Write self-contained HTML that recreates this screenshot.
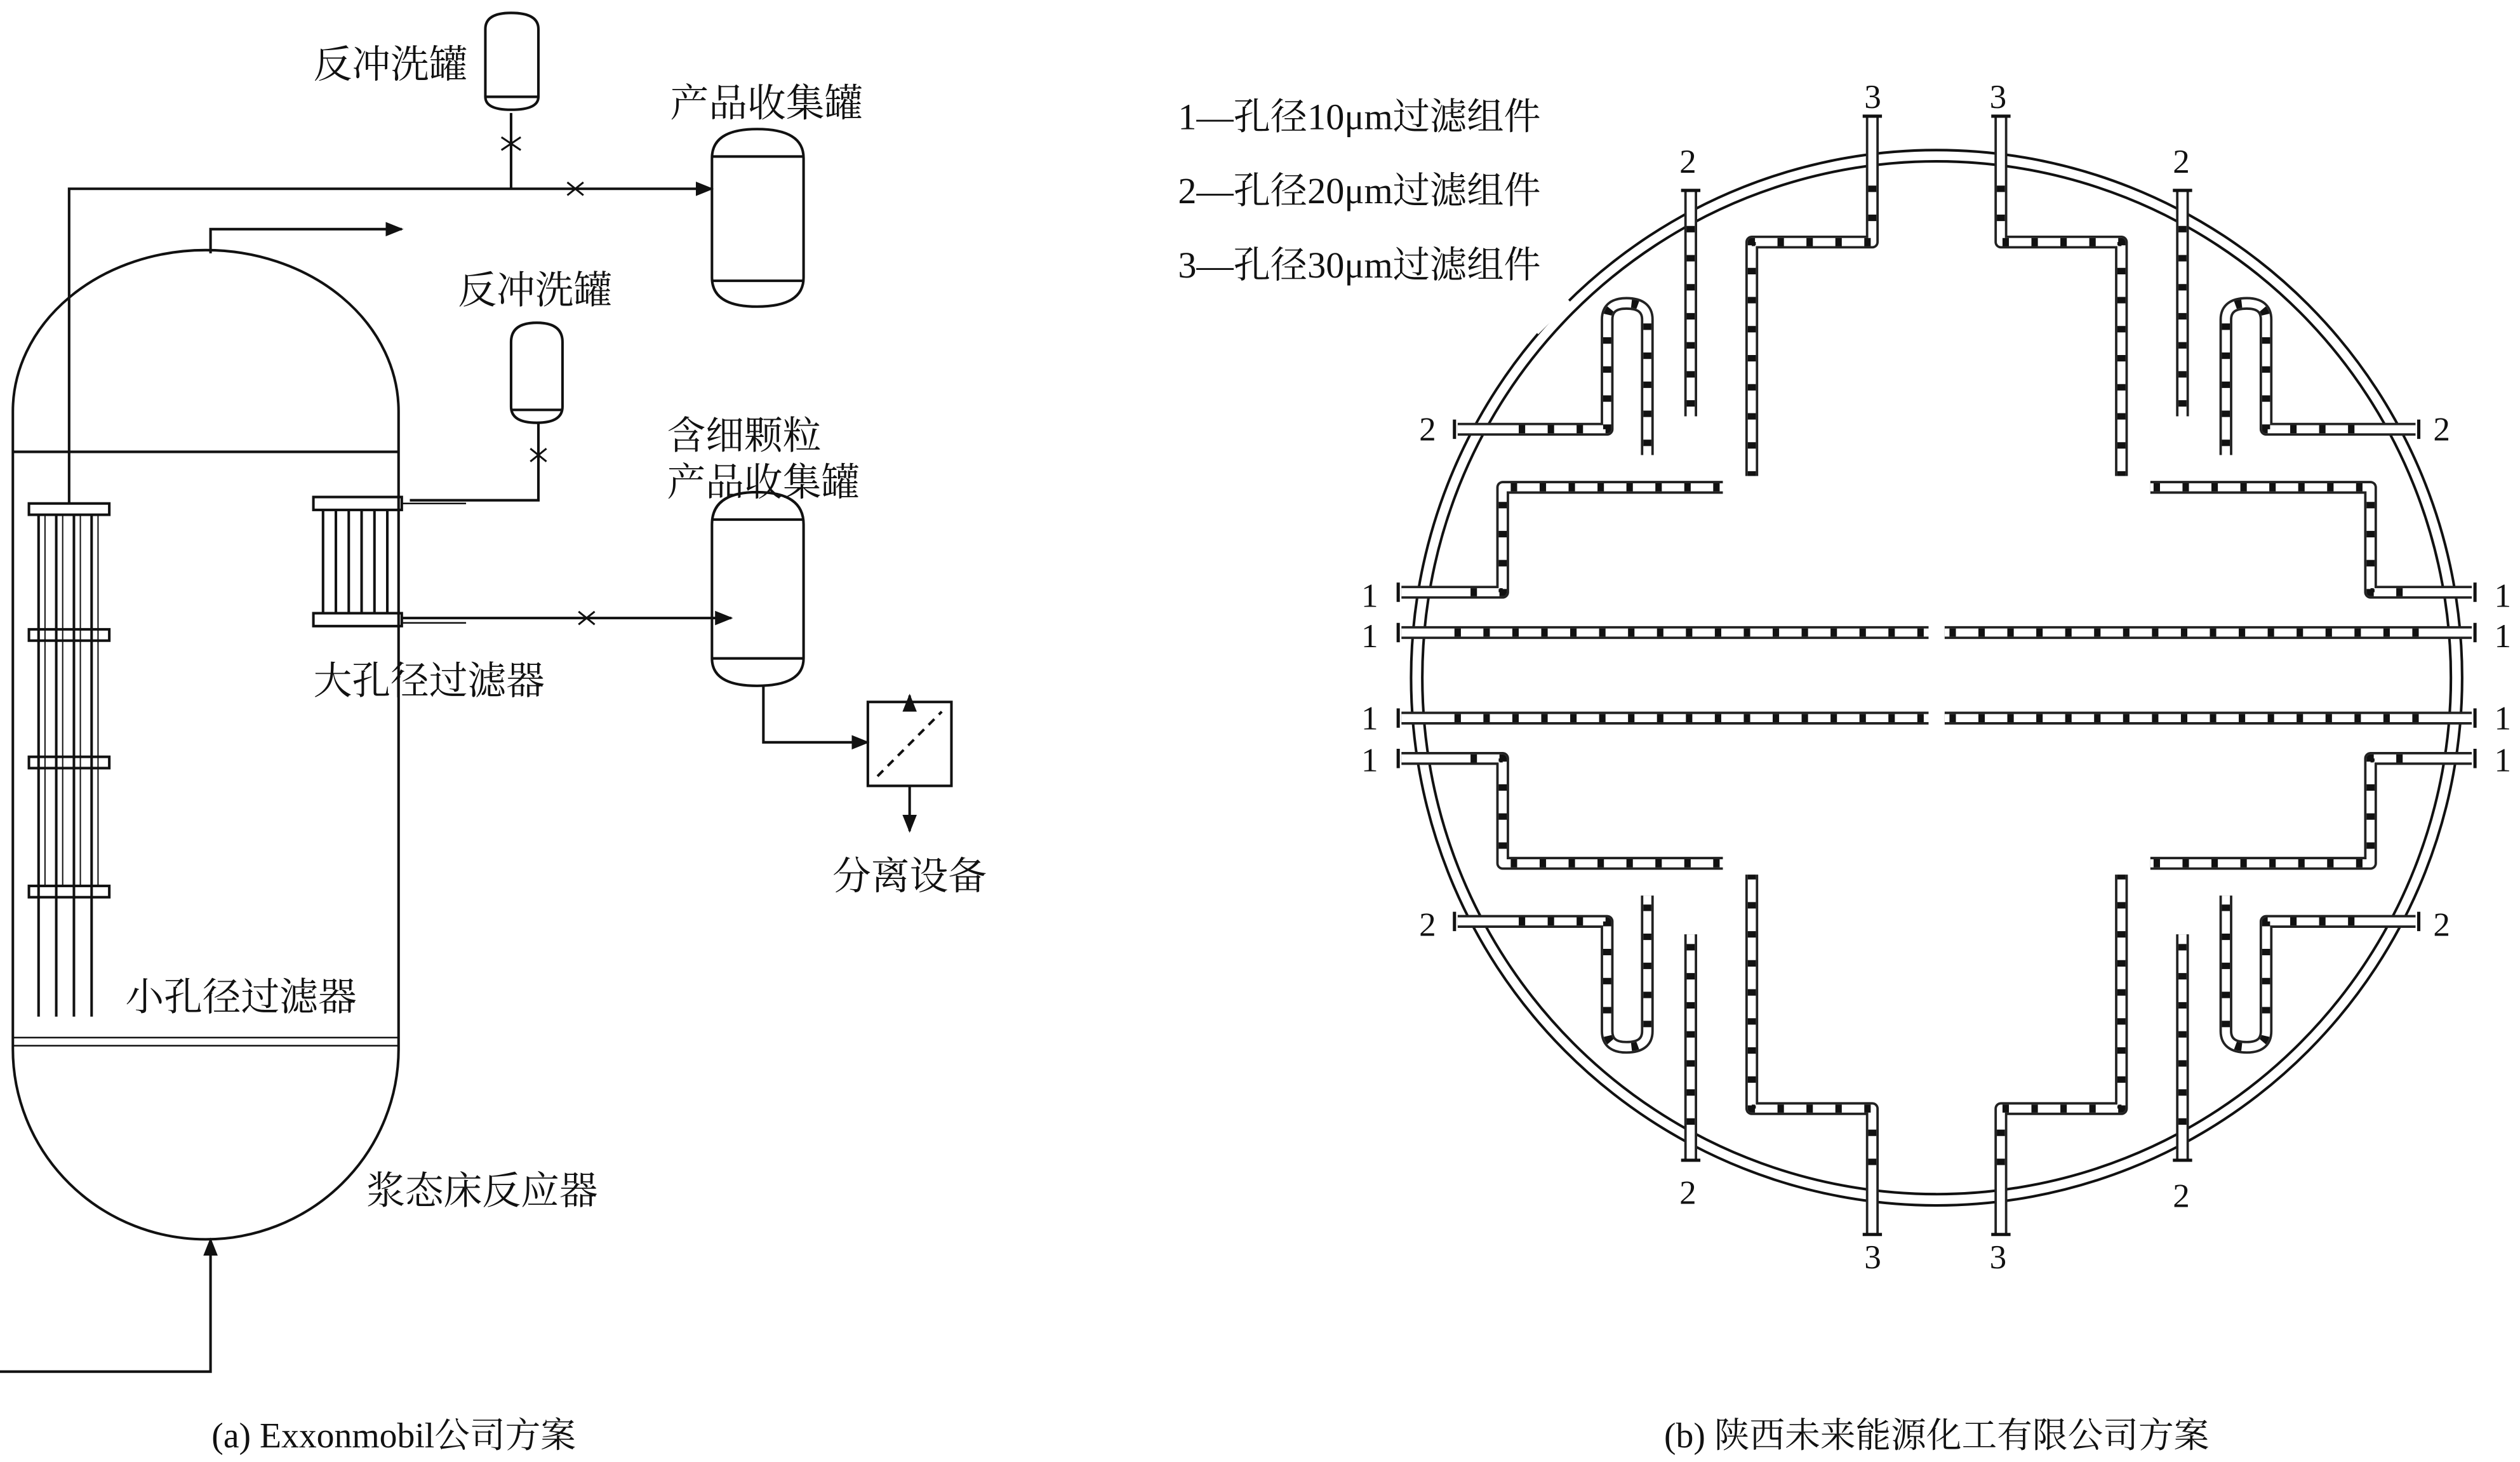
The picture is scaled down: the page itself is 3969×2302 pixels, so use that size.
<!DOCTYPE html>
<html><head><meta charset="utf-8"><style>
html,body{margin:0;padding:0;background:#fff;}
svg{display:block}
text{font-family:"Liberation Serif","Noto Serif CJK SC","Noto Sans CJK SC",serif;fill:#111}
</style></head><body>
<svg width="3969" height="2302" viewBox="0 0 1568 906" preserveAspectRatio="none" xmlns="http://www.w3.org/2000/svg">
<defs>
<marker id="ar" viewBox="0 0 10 10" refX="9" refY="5" markerWidth="7" markerHeight="7" orient="auto"><path d="M0,1 L10,5 L0,9 Z" fill="#111"/></marker>
<g id="q" fill="none" stroke-linejoin="round">
  <g stroke="#222" stroke-width="8">
    <path d="M872 367 H935 V302 H1072"/>
    <path d="M872 392 H1200"/>
    <path d="M907 266 H1000 V198 Q1000 188 1012 188 Q1025 188 1025 198 V282"/>
    <path d="M1052 118 V258"/>
    <path d="M1165 72 V150 H1090 V295"/>
  </g>
  <g stroke="#fff" stroke-width="5">
    <path d="M872 367 H935 V302 H1072"/>
    <path d="M872 392 H1200"/>
    <path d="M907 266 H1000 V198 Q1000 188 1012 188 Q1025 188 1025 198 V282"/>
    <path d="M1052 118 V258"/>
    <path d="M1165 72 V150 H1090 V295"/>
  </g>
  <g stroke="#111" stroke-width="5" stroke-dasharray="4 14">
    <path d="M915 367 H935 V302 H1072"/>
    <path d="M905 392 H1200"/>
    <path d="M945 266 H1000 V198 Q1000 188 1012 188 Q1025 188 1025 198 V282"/>
    <path d="M1052 140 V258"/>
    <path d="M1165 115 V150 H1090 V295"/>
  </g>
  <g stroke="#111" stroke-width="2">
    <path d="M870 361 V373 M870 386 V398 M905 260 V272 M1046 118 H1058 M1159 72 H1171"/>
  </g>
</g>
</defs>

<!-- LEFT DIAGRAM -->
<g fill="none" stroke="#111" stroke-width="1.6">
  <path d="M8 255 A120 100 0 0 1 248 255 V650 A120 118 0 0 1 8 650 Z"/>
  <path d="M8 280 H248"/>
  <path d="M8 643 H248 M8 648 H248" stroke-width="1"/>
  <path d="M0 850 H131 V768" marker-end="url(#ar)"/>
  <path d="M131 157 V142 H250" marker-end="url(#ar)"/>
  <path d="M43 312 V117 H443" marker-end="url(#ar)"/>
  <path d="M318 117 V70"/>
  <path d="M302 18 Q302 8 318 8 Q335 8 335 18 V60 Q335 68 318 68 Q302 68 302 60 Z"/>
  <path d="M302 60 H335"/>
  <path d="M443 98 Q443 80 471 80 Q500 80 500 98 V172 Q500 190 471 190 Q443 190 443 172 Z"/>
  <path d="M443 97 H500 M443 174 H500"/>
  <path d="M318 212 Q318 200 334 200 Q350 200 350 212 V252 Q350 262 334 262 Q318 262 318 252 Z"/>
  <path d="M318 254 H350"/>
  <path d="M335 262 V310 H255"/>
  <rect x="195" y="308" width="55" height="8"/>
  <rect x="195" y="380" width="55" height="8"/>
  <path d="M201 316 V380 M209 316 V380 M217 316 V380 M225 316 V380 M233 316 V380 M241 316 V380"/>
  <path d="M250 383 H455" marker-end="url(#ar)"/>
  <path d="M250 312 H290 M250 386 H290" stroke-width="1"/>
  <path d="M443 325 Q443 305 471 305 Q500 305 500 325 V408 Q500 425 471 425 Q443 425 443 408 Z"/>
  <path d="M443 322 H500 M443 408 H500"/>
  <path d="M475 425 V460 H540" marker-end="url(#ar)"/>
  <rect x="540" y="435" width="52" height="52"/>
  <path d="M546 481 L586 441" stroke-dasharray="5 4"/>
  <path d="M566 435 V431" marker-end="url(#ar)"/>
  <path d="M566 487 V515" marker-end="url(#ar)"/>
  <path d="M353 113 L363 121 M353 121 L363 113 M312 85 L324 93 M312 93 L324 85 M330 278 L340 286 M330 286 L340 278 M360 379 L370 387 M360 387 L370 379" stroke-width="1.2"/>
  <g>
    <rect x="18" y="312" width="50" height="7"/>
    <rect x="18" y="390" width="50" height="7"/>
    <rect x="18" y="469" width="50" height="7"/>
    <rect x="18" y="549" width="50" height="7"/>
    <path d="M24 319 V630 M35 319 V630 M46 319 V630 M57 319 V630"/>
    <path d="M28 319 V549 M39 319 V549 M50 319 V549 M61 319 V549" stroke-width="0.8"/>
  </g>
</g>
<g font-size="24">
<text x="195" y="48">反冲洗罐</text>
<text x="417" y="72">产品收集罐</text>
<text x="285" y="188">反冲洗罐</text>
<text x="415" y="278">含细颗粒</text>
<text x="415" y="307">产品收集罐</text>
<text x="195" y="430">大孔径过滤器</text>
<text x="518" y="551">分离设备</text>
<text x="78" y="626">小孔径过滤器</text>
<text x="228" y="746">浆态床反应器</text>
</g>
<text x="245" y="897" font-size="22" text-anchor="middle">(a) Exxonmobil公司方案</text>

<!-- RIGHT DIAGRAM -->
<g fill="none" stroke="#111" stroke-width="1.6">
  <circle cx="1205" cy="420" r="327"/>
  <circle cx="1205" cy="420" r="320"/>
</g>
<path d="M955 205 L975 185" stroke="#fff" stroke-width="6"/>
<use href="#q"/>
<use href="#q" transform="translate(2410 0) scale(-1 1)"/>
<use href="#q" transform="translate(0 837) scale(1 -1)"/>
<use href="#q" transform="translate(2410 837) scale(-1 -1)"/>

<g font-size="23">
<text x="733" y="80">1—孔径10μm过滤组件</text>
<text x="733" y="126">2—孔径20μm过滤组件</text>
<text x="733" y="172">3—孔径30μm过滤组件</text>
</g>
<g font-size="21">
<text x="847" y="376">1</text><text x="847" y="401">1</text>
<text x="847" y="452">1</text><text x="847" y="478">1</text>
<text x="1552" y="376">1</text><text x="1552" y="401">1</text>
<text x="1552" y="452">1</text><text x="1552" y="478">1</text>
<text x="883" y="273">2</text><text x="1514" y="273">2</text>
<text x="883" y="580">2</text><text x="1514" y="580">2</text>
<text x="1045" y="107">2</text><text x="1352" y="107">2</text>
<text x="1045" y="746">2</text><text x="1352" y="748">2</text>
<text x="1160" y="67">3</text><text x="1238" y="67">3</text>
<text x="1160" y="786">3</text><text x="1238" y="786">3</text>
</g>
<text x="1205" y="897" font-size="22" text-anchor="middle">(b) 陕西未来能源化工有限公司方案</text>
</svg>
</body></html>
